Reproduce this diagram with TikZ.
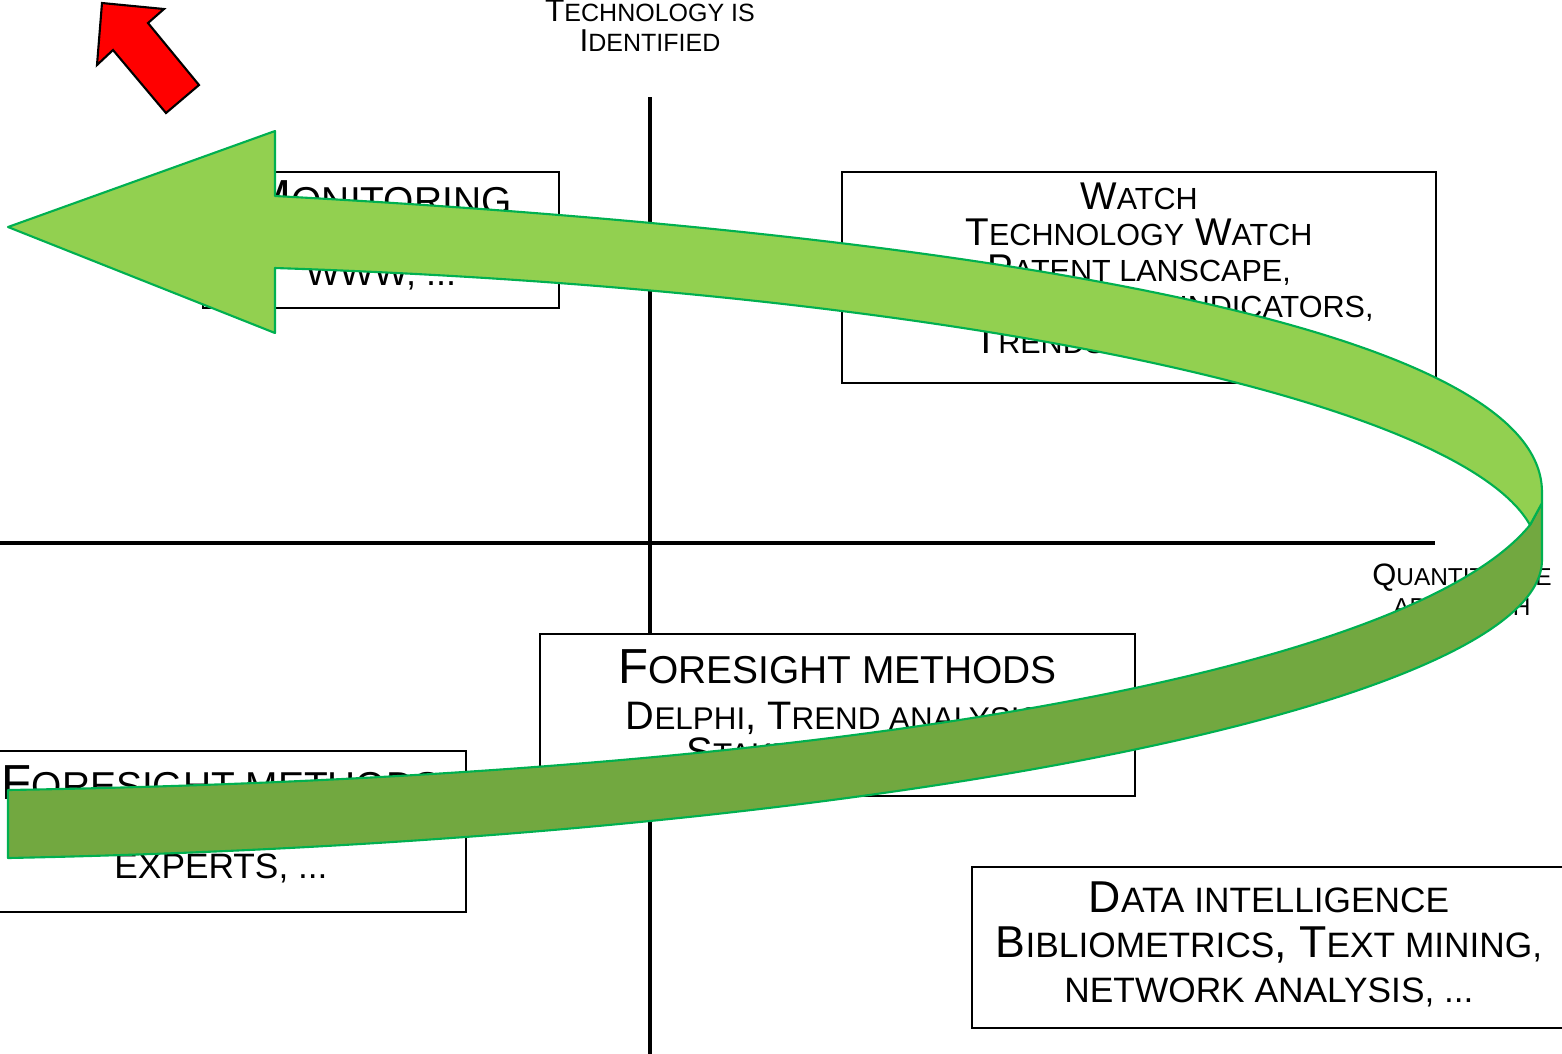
\documentclass[tikz,border=0pt]{standalone}
\usepackage{fontspec}
\setmainfont{Liberation Sans}
\usepackage{tikz}
\definecolor{leafgreen}{RGB}{146,208,80}
\definecolor{darkleaf}{RGB}{114,168,64}
\definecolor{rimgreen}{RGB}{0,176,80}
\makeatletter
\newcommand\smc[1]{{\fontsize{\fpeval{0.79*\f@size}}{\f@baselineskip}\selectfont\MakeUppercase{#1}}}
\makeatother
\newcommand\headtxt[1]{{\fontsize{14}{14}\selectfont#1}}

\begin{document}
\begin{tikzpicture}[
    x=0.01cm, y=-0.01cm,
    box/.style={
        draw=black,
        line width=0.6pt,
        fill=white,
        align=center,
        inner sep=0pt,
    },
    axis/.style={line width=1.4pt, color=black},
    band/.style={draw=rimgreen, line width=0.6pt, line join=round},
    lbl/.style={align=center, inner sep=0pt}
]
\useasboundingbox (0,0) rectangle (1562,1053);
\clip (0,0) rectangle (1562,1053);

\coordinate (AxTop) at (650,97);
\coordinate (AxBot) at (650,1060);
\coordinate (AxL) at (-10,543);
\coordinate (AxR) at (1435,543);
\draw[axis] (AxTop) -- (AxBot);
\draw[axis] (AxL) -- (AxR);

\node[lbl, font=\fontsize{9}{8.5}\selectfont] (Ident) at (650,26) {%
  T\smc{echnology is}\\I\smc{dentified}};
\node[lbl, font=\fontsize{8.8}{8.5}\selectfont] (Quant) at (1462,590) {%
  Q\smc{uantitative}\\\smc{approach}};

\node[box, minimum width=3.56cm, minimum height=1.36cm, text depth=4pt,
      font=\fontsize{13}{10}\selectfont] (Mon) at (381,240) {%
  \headtxt{M\smc{onitoring}}\\
  P\smc{ress, internet,}\\
  \smc{www, ...}};
\node[box, minimum width=5.94cm, minimum height=2.11cm, text depth=5.3pt,
      font=\fontsize{11}{10.2}\selectfont] (Watch) at (1139,277.5) {%
  W\smc{atch}\\
  T\smc{echnology} W\smc{atch}\\
  P\smc{atent lanscape,}\\
  T\smc{echnological indicators,}\\
  T\smc{rends analysis, ...}};
\node[box, minimum width=5.95cm, minimum height=1.62cm, text depth=4.3pt,
      font=\fontsize{11.3}{10.2}\selectfont] (ForeMid) at (837.5,715) {%
  \headtxt{F\smc{oresight methods}}\\[2.9pt]
  D\smc{elphi}, T\smc{rend analysis,}\\
  S\smc{takeholders, ...}};
\node[box, minimum width=4.90cm, minimum height=1.61cm, text depth=5.4pt,
      font=\fontsize{12.7}{11.2}\selectfont] (ForeLeft) at (221,831.5) {%
  \headtxt{F\smc{oresight methods}}\\
  S\smc{cenarios, panels of}\\
  \smc{experts, ...}};
\node[box, minimum width=5.94cm, minimum height=1.61cm, text depth=2.9pt,
      font=\fontsize{12.7}{12.8}\selectfont] (Data) at (1269,947.5) {%
  D\smc{ata intelligence}\\
  B\smc{ibliometrics}, T\smc{ext mining,}\\
  \smc{network analysis, ...}};

\draw[band, fill=darkleaf] (1530,525) -- (1542,503) -- (1542,560)
  .. controls (1542,700) and (900,840) .. (8,858) -- (8,790)
  .. controls (900,775) and (1420,660) .. (1530,525) -- cycle;
\draw[band, fill=leafgreen] (8,227) -- (275,131) -- (275,196)
  .. controls (1000,235) and (1542,330) .. (1542,492) -- (1542,503)
  -- (1530,525) .. controls (1460,400) and (950,290) .. (275,268)
  -- (275,333) -- cycle;

\draw[fill=red, line width=0.6pt] (102,3) -- (164,9) -- (148,23) -- (199,85)
  -- (166,113) -- (113,50) -- (97,65) -- cycle;
\end{tikzpicture}
\end{document}
